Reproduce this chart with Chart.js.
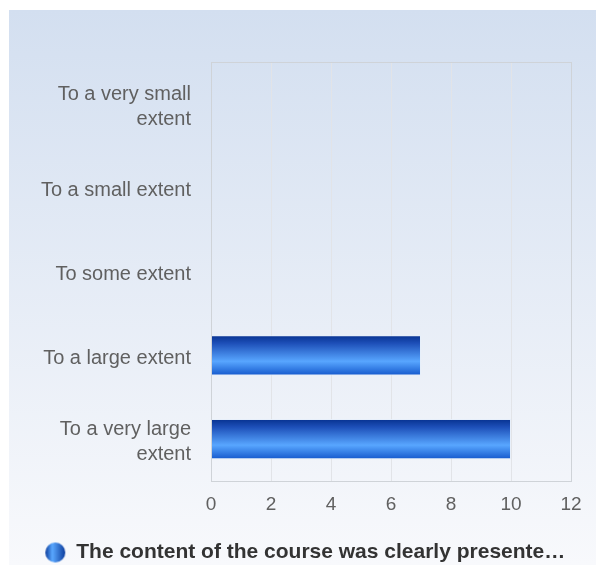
<!DOCTYPE html>
<html>
<head>
<meta charset="utf-8">
<script src="https://cdn.jsdelivr.net/npm/chart.js@4"></script>
<style>
html,body{margin:0;padding:0;background:#fff;}
#wrap{width:596px;height:565px;position:relative;}
</style>
</head>
<body>
<div id="wrap"><canvas id="c" width="596" height="565"></canvas></div>
<script>
const categories = [['To a very small', 'extent'], 'To a small extent', 'To some extent', 'To a large extent', ['To a very large', 'extent']];
const seriesName = 'The content of the course was clearly presente\u2026';
const values = [0, 0, 0, 7, 10];
const xTicks = [0, 2, 4, 6, 8, 10, 12];

const panelPlugin = {
  id: 'panel',
  afterLayout(chart) {
    const lg = chart.legend;
    if (lg) { lg.left += 15; lg.right += 15; lg.top += 8; lg.bottom += 8; }
  },
  beforeDraw(chart) {
    const ctx = chart.ctx;
    ctx.save();
    ctx.fillStyle = '#ffffff';
    ctx.fillRect(0, 0, chart.width, chart.height);
    const g = ctx.createLinearGradient(0, 10, 0, chart.height);
    g.addColorStop(0, '#d3dff0');
    g.addColorStop(1, '#f8f9fc');
    ctx.fillStyle = g;
    ctx.fillRect(9, 10, chart.width - 9, chart.height - 10);
    ctx.restore();
  },
  afterDraw(chart) {
    const a = chart.chartArea, ctx = chart.ctx;
    ctx.save();
    ctx.strokeStyle = '#cfd3d8';
    ctx.lineWidth = 1;
    ctx.strokeRect(Math.round(a.left) + 0.5, Math.round(a.top) + 0.5, Math.round(a.right - a.left), Math.round(a.bottom - a.top));
    ctx.restore();
  }
};

function legendIcon() {
  const c = document.createElement('canvas');
  c.width = 22; c.height = 22;
  const x = c.getContext('2d');
  const g = x.createLinearGradient(1, 0, 21, 0);
  g.addColorStop(0, '#0a3a9a');
  g.addColorStop(0.35, '#5aa8ff');
  g.addColorStop(1, '#0d3d9e');
  x.fillStyle = g;
  x.beginPath(); x.arc(11, 11, 10, 0, Math.PI * 2); x.fill();
  return c;
}
const icon = legendIcon();

function barFill(context) {
  const chart = context.chart;
  const a = chart.chartArea;
  if (!a || context.dataIndex === undefined) return '#2a6ad8';
  const ys = chart.scales.y;
  const cy = ys.getPixelForValue(context.dataIndex);
  const band = (a.bottom - a.top) / categories.length;
  const h = band * 0.48;
  const g = chart.ctx.createLinearGradient(0, cy - h / 2, 0, cy + h / 2);
  g.addColorStop(0, '#06318f');
  g.addColorStop(0.2, '#1d4fb8');
  g.addColorStop(0.65, '#58a6ff');
  g.addColorStop(1, '#1458cc');
  return g;
}

new Chart(document.getElementById('c'), {
  type: 'bar',
  data: {
    labels: categories,
    datasets: [{
      label: seriesName,
      data: values,
      backgroundColor: barFill,
      borderColor: 'rgba(230,238,250,0.9)',
      borderWidth: 1,
      barPercentage: 0.48,
      categoryPercentage: 1
    }]
  },
  options: {
    indexAxis: 'y',
    responsive: false,
    animation: false,
    devicePixelRatio: 1,
    layout: { padding: { top: 62, right: 25, left: 9, bottom: 0 } },
    scales: {
      x: {
        min: 0, max: 12,
        afterBuildTicks(s) { s.ticks = xTicks.map(v => ({ value: v })); },
        afterFit(s) { s.height = 49; },
        grid: { color: '#e2e4e8', drawTicks: false },
        border: { color: '#cfd3d8' },
        ticks: { padding: 12, color: '#606060', font: { family: 'Liberation Sans, Arial', size: 19 } }
      },
      y: {
        afterFit(s) { s.width = 202; },
        grid: { display: false, drawTicks: false },
        border: { color: '#cfd3d8' },
        ticks: { padding: 20, labelOffset: 3, color: '#606060', font: { family: 'Liberation Sans, Arial', size: 20, lineHeight: 1.25 } }
      }
    },
    plugins: {
      legend: {
        position: 'bottom',
        labels: {
          usePointStyle: true,
          pointStyle: icon,
          color: '#333333',
          padding: 4,
          font: { family: 'Liberation Sans, Arial', size: 21, weight: 'bold' },
          generateLabels(chart) {
            return [{ text: seriesName, pointStyle: icon, fillStyle: '#2a6ad8', strokeStyle: 'transparent', lineWidth: 0, datasetIndex: 0, fontColor: '#333333' }];
          }
        }
      },
      tooltip: { enabled: false }
    }
  },
  plugins: [panelPlugin]
});
</script>
</body>
</html>
